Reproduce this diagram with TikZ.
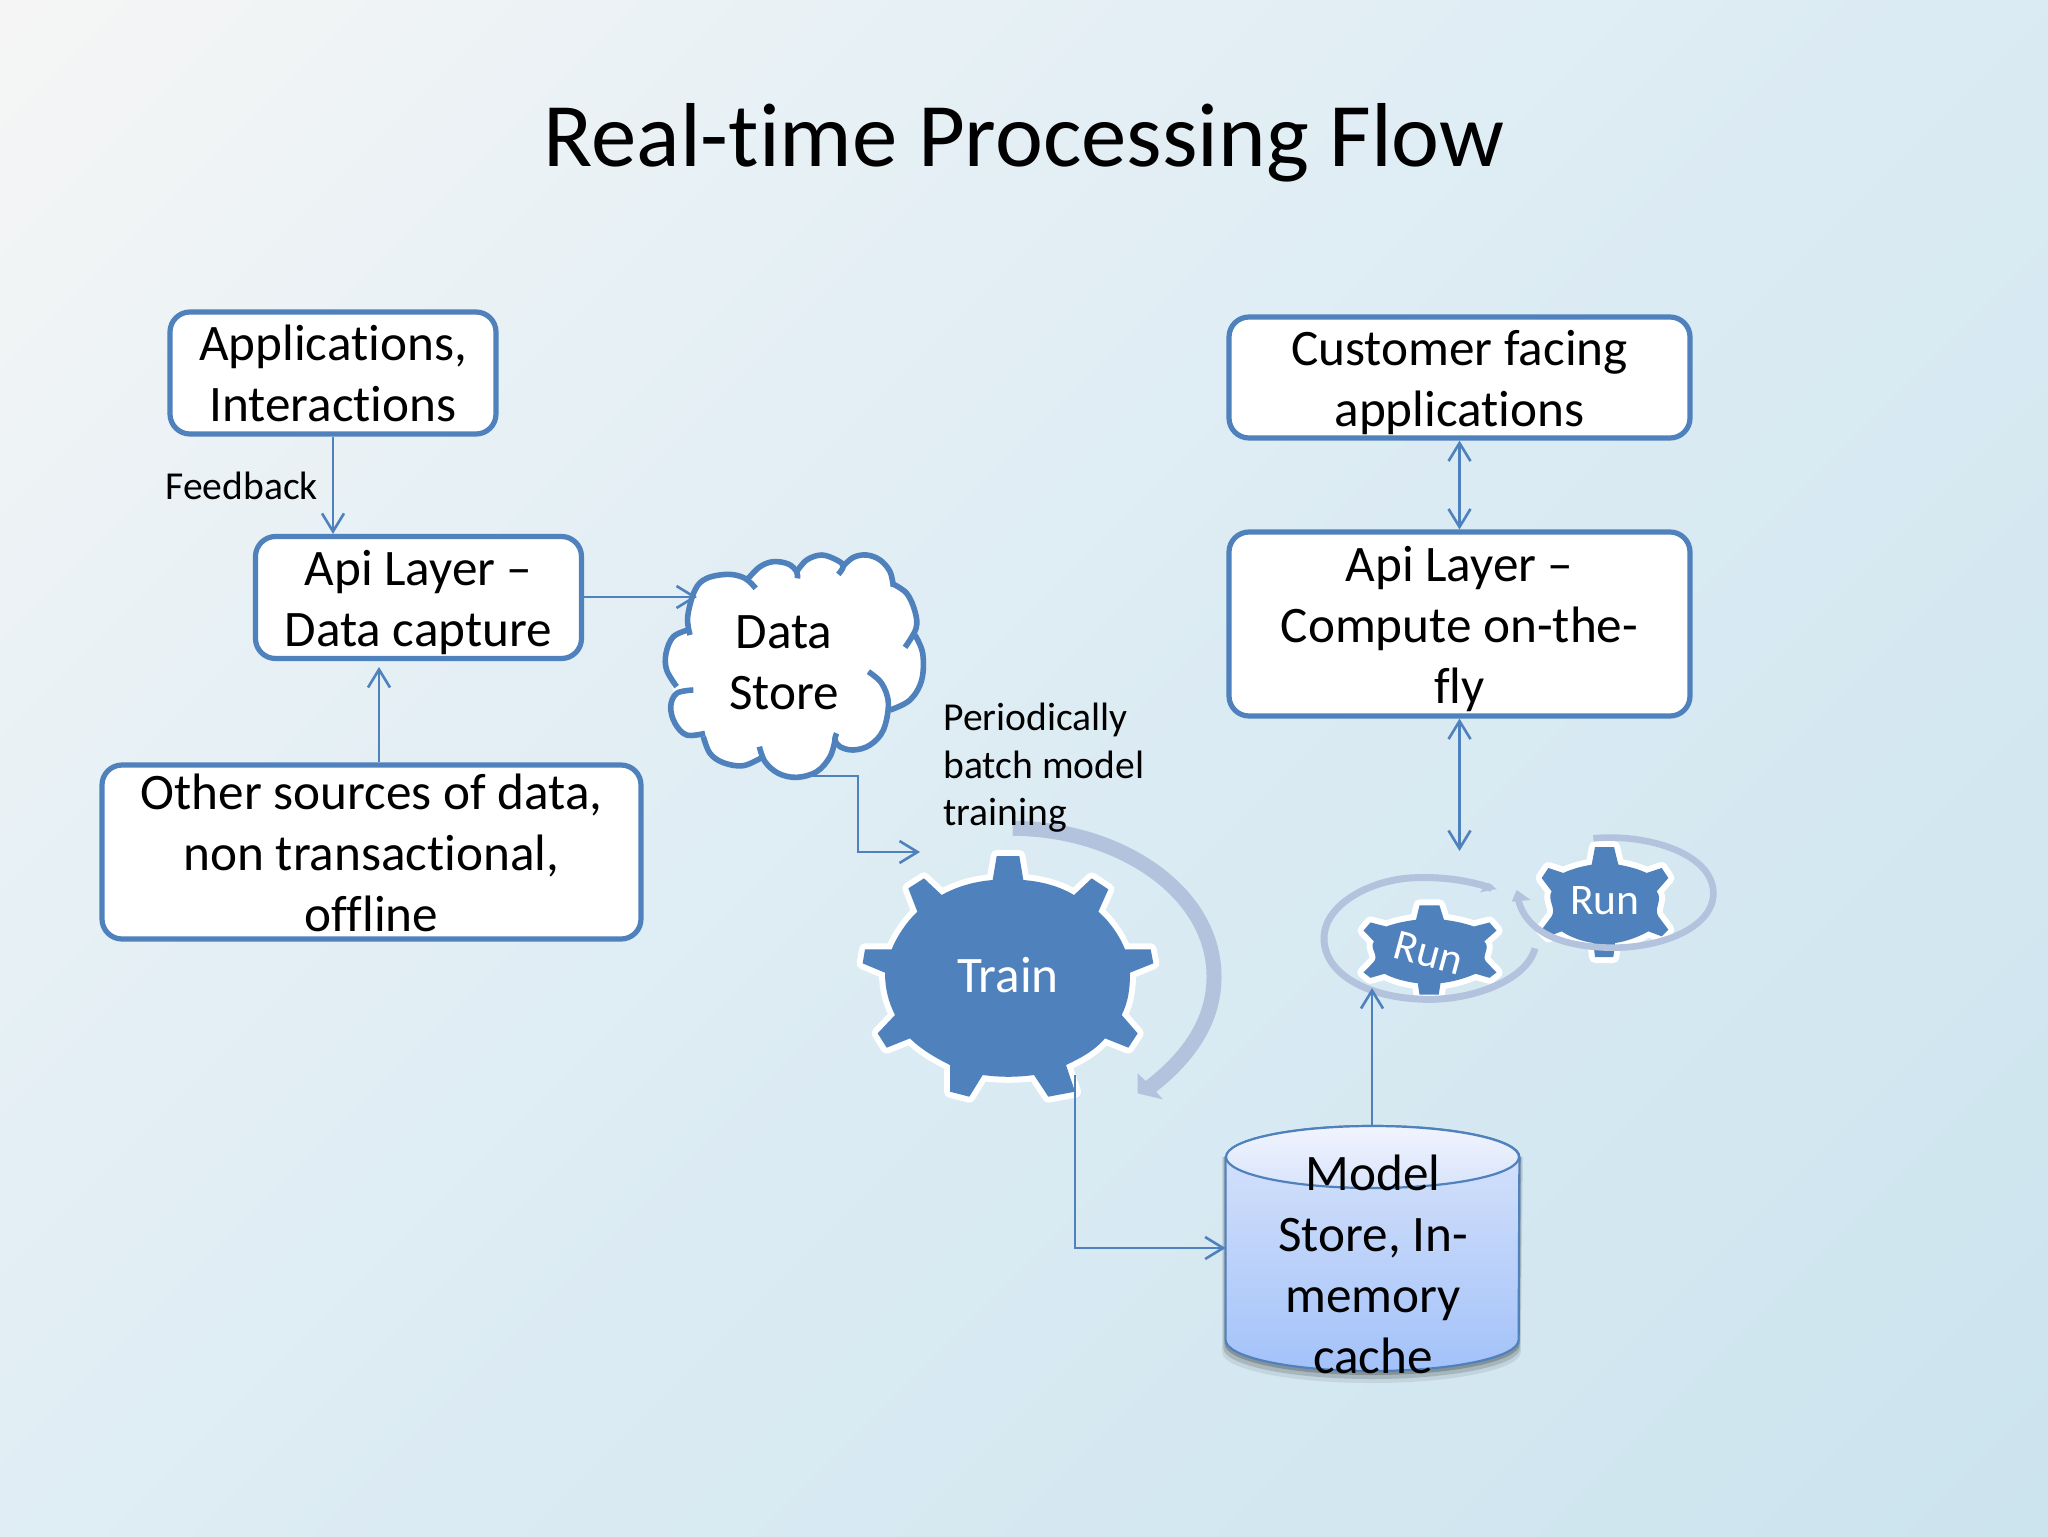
\documentclass[tikz,border=0pt]{standalone}
\usepackage{fontspec}
\setmainfont{Carlito}[Ligatures=NoCommon]
\usetikzlibrary{arrows.meta,calc}
\definecolor{lineblue}{HTML}{4F81BD}
\definecolor{arcblue}{HTML}{B3C3DD}
\definecolor{bgA}{HTML}{F5F5F5}
\definecolor{bgN}{HTML}{EEF3F5}
\definecolor{bgM}{HTML}{E6F0F5}
\definecolor{bgB}{HTML}{DBEBF3}
\definecolor{bgC}{HTML}{CCE4EE}
\definecolor{cylA}{RGB}{240,244,253}
\definecolor{cylB}{RGB}{217,228,251}
\definecolor{cylC}{RGB}{163,194,249}
\pgfdeclarehorizontalshading{slidebg}{100bp}{color(0bp)=(bgA); color(15bp)=(bgA); color(24bp)=(bgN); color(34bp)=(bgM); color(53bp)=(bgB); color(85bp)=(bgC); color(100bp)=(bgC)}
\tikzset{
  conn/.style={draw=lineblue,line width=1.3pt,line join=miter},
  tip/.style={-{Straight Barb[length=9pt,width=11pt,line width=1.3pt]}},
  tips/.style={{Straight Barb[length=9pt,width=11pt,line width=1.3pt]}-{Straight Barb[length=9pt,width=11pt,line width=1.3pt]}},
  big/.style={font=\fontsize{25.6}{30.5}\selectfont,inner sep=0pt},
  small/.style={font=\fontsize{19.8}{23.7}\selectfont,inner sep=0pt},
  box/.style={big,draw=lineblue,fill=white,line width=2.6pt,rounded corners=10pt},
  gearshape/.style={fill=lineblue,preaction={draw=white,line width=6pt,line join=round}},
  zoomed/.style={x=.16667pt,y=-.16667pt},
  turn/.style={draw=arcblue,line cap=butt},
  cloudline/.style={draw=lineblue,line width=2.8pt,line cap=butt}
}
\newcommand{\ml}[1]{\smash{\raisebox{-.36em}{\begin{tabular}{@{}c@{}}#1\end{tabular}}}}
\newcommand{\lobes}[1]{%
  \path[#1] plot[smooth,tension=.6] coordinates {(150,285) (143,230) (165,150) (200,115) (265,103) (315,115) (347,145)};
  \path[#1] plot[smooth,tension=.6] coordinates {(325,115) (360,80) (400,65) (445,72) (470,95) (472,115)};
  \path[#1] plot[smooth,tension=.6] coordinates {(470,95) (500,60) (545,45) (590,60) (610,78) (595,103)};
  \path[#1] plot[smooth,tension=.6] coordinates {(610,78) (640,52) (680,45) (720,60) (750,95) (760,140)};
  \path[#1] plot[smooth,tension=.6] coordinates {(755,130) (800,160) (825,215) (828,265) (795,322)};
  \path[#1] plot[smooth,tension=.6] coordinates {(825,285) (848,340) (845,420) (810,480) (750,510)};
  \path[#1] plot[smooth,tension=.6] coordinates {(685,395) (725,430) (745,490) (730,570) (690,615) (640,630) (600,620) (585,600) (590,580)};
  \path[#1] plot[smooth,tension=.6] coordinates {(585,600) (570,650) (530,695) (470,712) (415,700) (375,665) (358,620)};
  \path[#1] plot[smooth,tension=.6] coordinates {(370,650) (310,677) (250,668) (210,640) (190,590)};
  \path[#1] plot[smooth,tension=.6] coordinates {(195,580) (140,585) (105,550) (92,500) (110,460) (160,450)};
  \path[#1] plot[smooth,tension=.6] coordinates {(110,440) (80,390) (78,340) (100,290) (150,268)};
}
\newcommand{\rungear}{%
  \path[gearshape] (885,112) -- (942,112) -- (955,165)
    .. controls (985,170) and (1015,178) .. (1040,190)
    -- (1085,175) -- (1105,205) -- (1070,245)
    .. controls (1090,270) and (1060,295) .. (1075,320)
    -- (1105,360) -- (1085,380) -- (1045,365)
    .. controls (1015,382) and (980,395) .. (945,400)
    -- (940,442) -- (885,442) -- (880,400)
    .. controls (845,395) and (810,382) .. (785,365)
    -- (745,380) -- (725,360) -- (755,320)
    .. controls (770,295) and (740,270) .. (755,245)
    -- (725,205) -- (745,175) -- (790,190)
    .. controls (815,178) and (845,170) .. (875,165) -- cycle;
}
\begin{document}
\begin{tikzpicture}[x=.5pt,y=-.5pt]
\useasboundingbox (0,0) rectangle (2048,1536);
% background
\shade[shading=slidebg,shading angle=-45] (0,0) rectangle (2048,1536);

\node[inner sep=0pt,font=\fontsize{45.4}{54}\selectfont] (title) at (1024,143) {Real-time Processing Flow};

% boxes
\node[box,minimum width=163pt,minimum height=61pt] (apps) at (333,373) {\ml{Applications,\\Interactions}};
\node[box,minimum width=163pt,minimum height=61pt] (capture) at (418.5,597.5) {\ml{Api Layer –\\Data capture}};
\node[box,minimum width=269.5pt,minimum height=87pt] (other) at (371.5,852) {\ml{Other sources of data,\\non transactional,\\offline}};
\node[box,minimum width=230.5pt,minimum height=60.5pt] (customer) at (1459.5,377.5) {\ml{Customer facing\\applications}};
\node[box,minimum width=230.5pt,minimum height=92pt] (compute) at (1459.5,624) {\ml{Api Layer –\\Compute on-the-\\fly}};

% cloud
\begin{scope}[shift={(640,540)},zoomed]
  \fill[white] (150,265) -- (200,115) -- (325,115) -- (400,65) -- (472,100) -- (545,45) -- (610,78) -- (680,45) -- (755,130) -- (828,265) -- (848,340) -- (750,510) -- (690,615) -- (585,600) -- (470,712) -- (370,650) -- (190,590) -- (105,550) -- (100,450) -- (80,390) -- cycle;
  \lobes{fill=white}
  \lobes{cloudline}
\end{scope}
\node[big,align=center] (cloud) at (784,661) {\ml{Data\\Store}};
\coordinate (cloudin) at (697,597);
\coordinate (cloudout) at (813,776);

% train gear
\begin{scope}[shift={(840,780)},zoomed]
  \path[gearshape] (470,228) -- (538,228) -- (550,300)
    .. controls (610,305) and (660,320) .. (702,345)
    -- (755,295) -- (805,328) -- (775,395)
    .. controls (810,425) and (840,470) .. (855,508)
    -- (932,508) -- (940,550) -- (870,578)
    .. controls (870,625) and (865,665) .. (845,705)
    -- (893,760) -- (865,803) -- (795,775)
    .. controls (760,815) and (720,835) .. (678,855)
    -- (705,935) -- (625,950) -- (582,885)
    .. controls (530,892) and (480,892) .. (428,885)
    -- (388,950) -- (330,935) -- (330,855)
    .. controls (290,835) and (245,810) .. (210,775)
    -- (140,803) -- (113,760) -- (165,705)
    .. controls (145,665) and (135,625) .. (135,578)
    -- (68,550) -- (75,508) -- (155,508)
    .. controls (170,470) and (200,425) .. (232,395)
    -- (205,325) -- (252,295) -- (305,345)
    .. controls (350,320) and (400,305) .. (458,300) -- cycle;
  \draw[turn,line width=7.5pt] (518,145) .. controls (830,145) and (1122,330) .. (1122,590) .. controls (1122,720) and (1050,830) .. (925,925);
  \fill[arcblue] (893,880) -- (893,940) -- (968,958) -- (940,925) -- cycle;
\end{scope}
\node[inner sep=0pt,text=white,font=\fontsize{25.6}{30}\selectfont] (train) at (1008,975) {Train};
\coordinate (trainin) at (920,852);
\coordinate (trainout) at (1075,1075);

% run gears
\begin{scope}[shift={(1430,950)},xscale=1.05,yscale=.81,zoomed,shift={(-915,-277)}]
  \rungear
\end{scope}
\begin{scope}[shift={(1605,902)},zoomed,shift={(-915,-277)}]
  \rungear
\end{scope}
\begin{scope}[shift={(1300,810)},zoomed]
  \draw[turn,line width=3.5pt] (705,415) .. controls (680,510) and (520,570) .. (380,568) .. controls (200,565) and (72,490) .. (72,385) .. controls (72,280) and (220,205) .. (350,203) .. controls (440,200) and (520,215) .. (575,235);
  \fill[arcblue] (540,247) -- (590,237) -- (565,218) -- cycle;
  \draw[turn,line width=3.3pt] (880,85) .. controls (1040,70) and (1240,130) .. (1240,250) .. controls (1240,350) and (1090,415) .. (930,413) .. controls (790,410) and (680,370) .. (655,270);
  \fill[arcblue] (650,240) -- (635,275) -- (692,270) -- cycle;
\end{scope}
\node[inner sep=0pt,text=white,font=\fontsize{21.8}{26}\selectfont,rotate=-15] (runa) at (1429,953) {Run};
\node[inner sep=0pt,text=white,font=\fontsize{21.8}{26}\selectfont] (runb) at (1605,901) {Run};
\coordinate (runain) at (1372,988);
\coordinate (runbin) at (1459.5,851);

% cylinder
\node[minimum width=146.5pt,minimum height=122pt,inner sep=0pt] (cyl) at (1372.5,1248) {};
\foreach \d/\o in {12/.08,8/.14,4/.2}{
  \fill[black,opacity=\o] (1226-\d/3,1157) -- (1226-\d/3,1340+\d) arc[start angle=180,end angle=360,x radius=73.25pt+\d*.12pt,y radius=15.5pt] -- (1519+\d/3,1157) -- cycle;
}
\path[draw=lineblue,line width=1.1pt,top color=cylB,bottom color=cylC]
  (cyl.west |- 0,1157) -- (cyl.west |- 0,1340) arc[start angle=180,end angle=360,x radius=73.25pt,y radius=15.5pt] -- (cyl.east |- 0,1157) arc[start angle=0,end angle=180,x radius=73.25pt,y radius=15.5pt] -- cycle;
\path[draw=lineblue,line width=1.1pt,top color=cylA,bottom color=cylB] (cyl.center |- 0,1157) ellipse[x radius=73.25pt,y radius=15.5pt];
\node[big] (cyltext) at (1373,1264) {\ml{Model\\Store, In-\\memory\\cache}};

% labels
\node[small,anchor=west] (fb) at (165,486) {Feedback};
\node[small,anchor=west] (per) at (943,765) {\smash{\raisebox{-.36em}{\begin{tabular}{@{}l@{}}Periodically\\batch model\\training\end{tabular}}}};

% connectors
\draw[conn,tip] (apps.south) -- (apps.south |- capture.north);
\coordinate (capturein) at (379,667);
\draw[conn,tip] (other.north -| capturein) -- (capturein);
\draw[conn,tip] (capture.east |- cloudin) -- (cloudin);
\draw[conn,tip] (cloudout) -| ($(cloudout)+(45,0)$) |- (trainin);
\draw[conn,tip] (trainout) |- (cyl.west);
\draw[conn,tip] (cyl.north -| runain) -- (runain);
\draw[conn,tips] (customer.south) -- (compute.north);
\draw[conn,tips] (compute.south) -- (runbin);
\end{tikzpicture}
\end{document}
